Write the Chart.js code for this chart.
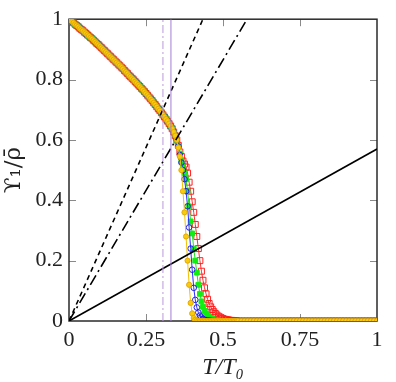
<!DOCTYPE html>
<html>
<head>
<meta charset="utf-8">
<script src="https://cdn.jsdelivr.net/npm/chart.js@4"></script>
<style>
    html, body { margin: 0; padding: 0; background: #ffffff; }
    #stiffnessChart { display: block; }
</style>
</head>
<body>
<canvas id="stiffnessChart" width="396" height="382"></canvas>
<script>
// temperature grid, T/T0
const tUpper = [0, 0.005, 0.01, 0.015, 0.02, 0.025, 0.03, 0.035, 0.04, 0.045,
    0.05, 0.055, 0.06, 0.065, 0.07, 0.075, 0.08, 0.085, 0.09, 0.095,
    0.10, 0.105, 0.11, 0.115, 0.12, 0.125, 0.13, 0.135, 0.14, 0.145,
    0.15, 0.155, 0.16, 0.165, 0.17, 0.175, 0.18, 0.185, 0.19, 0.195,
    0.20, 0.205, 0.21, 0.215, 0.22, 0.225, 0.23, 0.235, 0.24, 0.245,
    0.25, 0.255, 0.26, 0.265, 0.27, 0.275, 0.28, 0.285, 0.29, 0.295,
    0.30, 0.305, 0.31, 0.315, 0.32, 0.325, 0.33, 0.335, 0.34, 0.345,
    0.35];
const tMid = [0.355, 0.36, 0.365, 0.37, 0.375, 0.38, 0.385, 0.39, 0.395, 0.40,
    0.405, 0.41, 0.415, 0.42, 0.425, 0.43, 0.435, 0.44, 0.445, 0.45,
    0.455, 0.46, 0.465, 0.47, 0.475, 0.48, 0.485, 0.49, 0.495, 0.50,
    0.505, 0.51, 0.515, 0.52, 0.525, 0.53, 0.535, 0.54, 0.545, 0.55];
const tTail = [0.56, 0.57, 0.58, 0.59, 0.60, 0.61, 0.62, 0.63, 0.64, 0.65,
    0.66, 0.67, 0.68, 0.69, 0.70, 0.71, 0.72, 0.73, 0.74, 0.75,
    0.76, 0.77, 0.78, 0.79, 0.80, 0.81, 0.82, 0.83, 0.84, 0.85,
    0.86, 0.87, 0.88, 0.89, 0.90, 0.91, 0.92, 0.93, 0.94, 0.95,
    0.96, 0.97, 0.98, 0.99, 1.00];

// low temperature part, all sizes on top of each other
const upperCurve = [1.000, 0.996, 0.992, 0.988, 0.983, 0.979, 0.975, 0.970, 0.966, 0.962,
    0.957, 0.953, 0.948, 0.944, 0.939, 0.935, 0.930, 0.925, 0.920, 0.916,
    0.911, 0.906, 0.901, 0.896, 0.891, 0.886, 0.881, 0.876, 0.871, 0.866,
    0.861, 0.856, 0.851, 0.846, 0.841, 0.836, 0.830, 0.825, 0.820, 0.814,
    0.809, 0.804, 0.799, 0.793, 0.788, 0.782, 0.777, 0.771, 0.766, 0.760,
    0.754, 0.748, 0.742, 0.736, 0.730, 0.723, 0.717, 0.710, 0.703, 0.697,
    0.690, 0.683, 0.676, 0.669, 0.662, 0.654, 0.646, 0.637, 0.626, 0.614,
    0.600];

const yellowMid = [0.575, 0.545, 0.50, 0.43, 0.36, 0.28, 0.20, 0.12, 0.06, 0.025,
    0.01, 0.004, 0.001, 0, 0, 0, 0, 0, 0, 0,
    0, 0, 0, 0, 0, 0, 0, 0, 0, 0,
    0, 0, 0, 0, 0, 0, 0, 0, 0, 0];
const blueMid = [0.578, 0.55, 0.525, 0.50, 0.47, 0.43, 0.38, 0.31, 0.24, 0.17,
    0.11, 0.07, 0.045, 0.028, 0.018, 0.011, 0.007, 0.004, 0.003, 0.002,
    0.001, 0.001, 0, 0, 0, 0, 0, 0, 0, 0,
    0, 0, 0, 0, 0, 0, 0, 0, 0, 0];
const greenMid = [0.58, 0.555, 0.53, 0.51, 0.49, 0.47, 0.43, 0.38, 0.33, 0.29,
    0.24, 0.20, 0.16, 0.12, 0.09, 0.065, 0.047, 0.034, 0.025, 0.018,
    0.013, 0.009, 0.007, 0.005, 0.004, 0.003, 0.002, 0.001, 0, 0,
    0, 0, 0, 0, 0, 0, 0, 0, 0, 0];
const redMid = [0.582, 0.56, 0.545, 0.53, 0.52, 0.51, 0.49, 0.46, 0.43, 0.395,
    0.36, 0.32, 0.28, 0.24, 0.20, 0.165, 0.135, 0.11, 0.09, 0.072,
    0.058, 0.047, 0.038, 0.031, 0.025, 0.02, 0.016, 0.013, 0.010, 0.008,
    0.006, 0.005, 0.004, 0.003, 0.002, 0.002, 0.001, 0.001, 0, 0];

const tailValues = [0, 0, 0, 0, 0, 0, 0, 0, 0, 0,
    0, 0, 0, 0, 0, 0, 0, 0, 0, 0,
    0, 0, 0, 0, 0, 0, 0, 0, 0, 0,
    0, 0, 0, 0, 0, 0, 0, 0, 0, 0,
    0, 0, 0, 0, 0];

// straight lines through the origin (slopes) and the two marked temperatures
const guideSlopes = [2.3, 1.73, 0.57];
const crossT = [0.305, 0.331];

const xTicks = [0, 0.25, 0.5, 0.75, 1];
const yTicks = [0, 0.2, 0.4, 0.6, 0.8, 1];

const serif = "'Liberation Serif', 'DejaVu Serif', serif";

function buildSeries(midValues) {
    const points = [];
    tUpper.forEach((t, i) => points.push({ x: t, y: upperCurve[i] }));
    tMid.forEach((t, i) => points.push({ x: t, y: midValues[i] }));
    tTail.forEach((t, i) => points.push({ x: t, y: tailValues[i] }));
    return points;
}

function guideLine(slope, dash) {
    return {
        data: [{ x: 0, y: 0 }, { x: 1, y: slope }],
        borderColor: "#000000",
        borderWidth: 1.6,
        borderDash: dash,
        pointRadius: 0,
        clip: 0
    };
}

function verticalLine(t, color, dash) {
    return {
        data: [{ x: t, y: 0 }, { x: t, y: 1 }],
        borderColor: color,
        borderWidth: 1,
        borderDash: dash,
        pointRadius: 0,
        clip: 0
    };
}

const frameAndTicks = {
    id: "frameAndTicks",
    beforeDatasetsDraw(chart) {
        const { ctx, chartArea } = chart;
        const xScale = chart.scales.x;
        const yScale = chart.scales.y;
        ctx.save();
        ctx.strokeStyle = "#8a8a8a";
        ctx.lineWidth = 1;
        ctx.beginPath();
        xTicks.slice(1, -1).forEach((v) => {
            const px = Math.round(xScale.getPixelForValue(v)) + 0.5;
            ctx.moveTo(px, chartArea.bottom);
            ctx.lineTo(px, chartArea.bottom - 7);
            ctx.moveTo(px, chartArea.top);
            ctx.lineTo(px, chartArea.top + 7);
        });
        yTicks.slice(1, -1).forEach((v) => {
            const py = Math.round(yScale.getPixelForValue(v)) + 0.5;
            ctx.moveTo(chartArea.left, py);
            ctx.lineTo(chartArea.left + 7, py);
            ctx.moveTo(chartArea.right, py);
            ctx.lineTo(chartArea.right - 7, py);
        });
        ctx.stroke();
        ctx.strokeStyle = "#2a2a2a";
        ctx.lineWidth = 1.5;
        ctx.strokeRect(chartArea.left, chartArea.top,
            chartArea.right - chartArea.left, chartArea.bottom - chartArea.top);
        ctx.restore();
    }
};

const stiffnessChart = new Chart(
    document.getElementById("stiffnessChart"),
    {
        type: "line",
        data: {
            datasets: [
                verticalLine(crossT[0], "#b998dc", [8, 3, 2, 3]),
                verticalLine(crossT[1], "#a57bd4", []),
                guideLine(guideSlopes[0], [5, 4]),
                guideLine(guideSlopes[1], [11, 4, 2, 4]),
                guideLine(guideSlopes[2], []),
                {
                    data: buildSeries(yellowMid),
                    borderColor: "#f2c200",
                    borderWidth: 1,
                    pointStyle: "circle",
                    pointRadius: 2.6,
                    pointBackgroundColor: "#f5cc10",
                    pointBorderColor: "#e8a800",
                    pointBorderWidth: 1
                },
                {
                    data: buildSeries(blueMid),
                    borderColor: "#2b2bff",
                    borderWidth: 1,
                    pointStyle: "circle",
                    pointRadius: 2.8,
                    pointBackgroundColor: "rgba(255,255,255,0)",
                    pointBorderColor: "#1f1fe0",
                    pointBorderWidth: 1
                },
                {
                    data: buildSeries(greenMid),
                    borderColor: "#22e022",
                    borderWidth: 1,
                    pointStyle: "rect",
                    pointRadius: 3.4,
                    pointBackgroundColor: "#11ee11",
                    pointBorderColor: "#11ee11",
                    pointBorderWidth: 1
                },
                {
                    data: buildSeries(redMid),
                    borderColor: "#ff3030",
                    borderWidth: 1,
                    pointStyle: "rect",
                    pointRadius: 4.2,
                    pointBackgroundColor: "rgba(255,255,255,0)",
                    pointBorderColor: "#ff2020",
                    pointBorderWidth: 1
                }
            ]
        },
        options: {
            responsive: false,
            animation: false,
            events: [],
            layout: { padding: { left: 0, right: 19, top: 15, bottom: 0 } },
            plugins: {
                legend: { display: false },
                tooltip: { enabled: false }
            },
            elements: { line: { tension: 0 } },
            scales: {
                x: {
                    type: "linear",
                    min: 0,
                    max: 1,
                    afterBuildTicks(scale) {
                        scale.ticks = xTicks.map((v) => ({ value: v }));
                    },
                    afterFit(scale) { scale.height = 61; },
                    ticks: {
                        color: "#222222",
                        padding: 6,
                        maxRotation: 0,
                        font: { family: serif, size: 22 },
                        callback: (v) => String(v)
                    },
                    grid: { display: false, drawTicks: false },
                    border: { display: false },
                    title: {
                        display: true,
                        text: "T/T₀",
                        color: "#222222",
                        padding: { top: 0, bottom: 0 },
                        font: { family: serif, size: 24, style: "italic" }
                    }
                },
                y: {
                    type: "linear",
                    min: 0,
                    max: 1,
                    afterBuildTicks(scale) {
                        scale.ticks = yTicks.map((v) => ({ value: v }));
                    },
                    afterFit(scale) { scale.width = 69; },
                    ticks: {
                        color: "#222222",
                        padding: 6,
                        font: { family: serif, size: 22 },
                        callback: (v) => String(v)
                    },
                    grid: { display: false, drawTicks: false },
                    border: { display: false },
                    title: {
                        display: true,
                        text: "ϒ₁/ρ̄",
                        color: "#222222",
                        padding: { top: 0, bottom: 3 },
                        font: { family: "'DejaVu Serif', serif", size: 23 }
                    }
                }
            }
        },
        plugins: [frameAndTicks]
    }
);
</script>
</body>
</html>
